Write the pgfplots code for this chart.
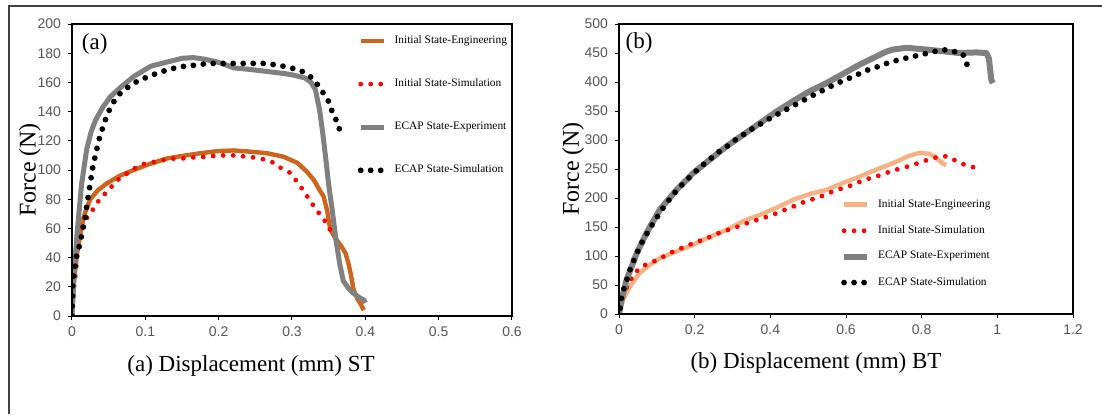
\documentclass[border=0pt]{standalone}
\usepackage{fontspec}
\setmainfont{Liberation Serif}
\setsansfont{Liberation Sans}
\usepackage{pgfplots}
\pgfplotsset{compat=1.18}

\definecolor{engorange}{RGB}{204,102,30}
\definecolor{peach}{RGB}{246,178,132}
\definecolor{expgray}{RGB}{128,128,128}
\definecolor{ticktext}{RGB}{85,85,85}

\tikzset{
  dotline/.style={line width=#1, dash pattern=on 0pt off 5pt, line cap=round},
}

\pgfplotsset{
  panel/.style={
    scale only axis,
    anchor=south west,
    axis line style={line width=0.6pt},
    tick pos=left, tick align=outside,
    major tick length=2pt,
    tick style={black, line width=0.5pt},
    tick label style={font=\sffamily\fontsize{7}{8}\selectfont, text=ticktext},
    /pgf/number format/assume math mode=true,
    /pgf/number format/fixed,
    label style={font=\fontsize{11.5}{13}\selectfont},
    ylabel style={font=\fontsize{12}{14}\selectfont},
    legend cell align=left,
    legend image code/.code={\draw[#1] (0pt,0pt) -- (11.5pt,0pt);},
  },
}

\pgfplotstableread{
x F
0 0
0.003 25
0.007 43
0.012 58
0.016 68
0.021 75
0.025 80
0.035 86
0.048 91
0.065 96
0.084 100
0.105 104
0.13 108
0.155 110
0.175 111.5
0.2 113
0.22 113.4
0.245 112.5
0.266 111.5
0.28 110
0.289 109
0.3 106.5
0.307 105
0.32 99
0.33 93
0.338 86
0.343 82
0.348 72
0.352 60
0.357 55
0.361 52
0.367 48
0.373 43
0.377 36
0.38 29
0.384 18
0.389 12
0.393 8.7
0.398 4
}\engA

\pgfplotstableread{
x F
0 0
0.001 6
0.002 15.5
0.003 21
0.005 29
0.007 41
0.011 52
0.015 62
0.020 67
0.025 70
0.032 76
0.041 82
0.05 86
0.059 92
0.07 96
0.082 100
0.093 103.5
0.105 105
0.118 106
0.13 107.4
0.143 108
0.157 108
0.17 109
0.184 109
0.198 110
0.211 110
0.225 110
0.239 109
0.25 108.5
0.264 107
0.275 105
0.286 101
0.298 98
0.314 87
0.33 75
0.345 65
0.352 59
}\simInitA

\pgfplotstableread{
x F
0 0
0.003 30
0.007 57
0.013 90
0.02 114
0.026 126
0.032 134
0.042 143
0.052 150
0.065 156
0.084 164
0.107 171
0.13 174
0.15 176.5
0.165 177
0.18 176
0.198 174
0.21 172
0.22 170
0.24 169
0.266 167.5
0.29 166
0.302 165
0.318 163
0.326 160
0.332 155
0.338 140
0.342 125
0.346 108
0.350 90
0.355 72
0.360 52
0.365 36
0.370 24
0.377 19
0.384 15.5
0.392 12.5
0.398 11
0.400 9
}\expA

\pgfplotstableread{
x F
0 0
0.0009 20
0.0023 27
0.0045 35
0.0068 43
0.0114 50
0.0136 57
0.018 67
0.0205 77
0.0227 84
0.025 91
0.027 98
0.0295 105
0.0327 111.5
0.036 119.5
0.04 126
0.0445 133
0.049 139
0.0545 145
0.0636 151.5
0.0727 155.4
0.084 159.5
0.097 162.5
0.109 165
0.123 167.5
0.134 169
0.145 170.5
0.159 171.4
0.173 172
0.184 173
0.198 173
0.225 173
0.252 173
0.266 173
0.277 172
0.289 171
0.301 169.6
0.314 167.5
0.325 164
0.334 159
0.341 154
0.349 148
0.354 141
0.359 135.5
0.364 130
0.366 123
}\simEcapA

\pgfplotstableread{
x F
0 0
0.011 25
0.029 48
0.055 71
0.082 85
0.108 96.5
0.152 108
0.196 119.5
0.24 133
0.284 145
0.328 160
0.372 171
0.416 183
0.46 197
0.504 207
0.548 214
0.592 226
0.636 237
0.68 249
0.724 260
0.768 273
0.795 278
0.821 276
0.839 269
0.856 259
0.865 257
}\engB

\pgfplotstableread{
x F
0.003 13
0.011 30
0.02 45
0.031 59
0.042 71
0.06 82
0.082 88
0.104 94
0.126 102
0.15 110
0.173 115.5
0.196 122
0.221 128
0.245 134
0.269 141
0.295 146.5
0.32 152
0.344 158
0.369 163
0.393 168
0.418 174
0.443 181
0.467 187
0.492 194
0.517 199
0.541 204.6
0.566 211.5
0.591 217
0.615 222
0.64 229
0.665 234.5
0.689 239
0.714 245
0.739 250
0.765 254.6
0.79 260
0.817 266
0.843 271
0.868 272
0.894 263
0.918 256
0.943 252
}\simInitB

\pgfplotstableread{
x F
0 0
0.007 25
0.02 59
0.047 105
0.073 140
0.108 180
0.152 214
0.196 243
0.24 266
0.284 289
0.328 309
0.372 329
0.416 349
0.46 367
0.504 384
0.548 398
0.592 414
0.636 430
0.68 444
0.705 452
0.724 456
0.76 459
0.812 456
0.856 453
0.9 450
0.944 451
0.971 450
0.978 440
0.98 427
0.984 404
0.988 398
}\expB

\pgfplotstableread{
x F
0.003 10
0.005 16
0.007 33
0.016 49
0.025 68
0.033 84
0.045 100.5
0.055 117
0.069 133
0.082 148
0.097 163
0.11 177
0.126 191
0.143 206
0.161 219
0.179 231
0.198 243
0.218 255
0.239 266
0.26 278
0.282 287
0.302 298
0.324 307
0.346 317
0.37 326
0.393 335
0.415 343
0.438 351
0.46 359
0.484 367
0.506 375
0.531 383
0.555 391
0.577 398
0.603 405
0.628 412
0.654 420
0.678 425
0.702 431
0.727 436
0.751 440
0.777 444
0.804 448
0.83 452
0.856 456
0.881 453
0.907 450
0.918 436
0.923 418
}\simEcapB

\begin{document}
\begin{tikzpicture}
\useasboundingbox (0,0) rectangle (551pt,207pt);
% outer frame (only top and left edges are visible in the reference)
\draw[line width=0.6pt, black!75] (4.5pt,0) -- (4.5pt,204pt) -- (551pt,204pt);

% ---------------- (a) ST ----------------
\begin{axis}[
  panel,
  at={(36pt,49pt)},
  width=220pt, height=146pt,
  xmin=0, xmax=0.6, ymin=0, ymax=200,
  xtick={0,0.1,0.2,0.3,0.4,0.5,0.6},
  ytick={0,20,40,60,80,100,120,140,160,180,200},
  xlabel={(a) Displacement (mm) ST},
  ylabel={Force (N)},
  xlabel style={at={(axis description cs:0.5,0)}, anchor=center, yshift=-25pt, xshift=-20.5pt},
  ylabel style={at={(axis description cs:-0.0955,0.5)}, anchor=center},
  legend style={draw=none, fill=none, font=\fontsize{5.7}{6.5}\selectfont,
    at={(0.635,0.99)}, anchor=north west, row sep=12.2pt,
    /tikz/every odd column/.append style={column sep=2pt}},
  after end axis/.code={
    \draw[line width=1.2pt] (rel axis cs:0,1) -- (rel axis cs:0,0) -- (rel axis cs:1,0);
    \draw[line width=1.2pt] (rel axis cs:1,0) -- (rel axis cs:1,0.585);
    \node[font=\fontsize{11.5}{13}\selectfont, anchor=center] at (axis cs:0.031,186) {(a)};
  },
]
\addplot[engorange, line width=2.2pt, line join=round] table {\engA};
\addlegendentry{Initial State-Engineering}
\addplot[red, dotline=2.4pt] table {\simInitA};
\addlegendentry{Initial State-Simulation}
\addplot[expgray, line width=2.5pt, line join=round] table {\expA};
\addlegendentry{ECAP State-Experiment}
\addplot[black, dotline=2.9pt] table {\simEcapA};
\addlegendentry{ECAP State-Simulation}
\end{axis}

% ---------------- (b) BT ----------------
\begin{axis}[
  panel,
  at={(309.5pt,50pt)},
  width=227pt, height=145pt,
  xmin=0, xmax=1.2, ymin=0, ymax=500,
  xtick={0,0.2,0.4,0.6,0.8,1,1.2},
  ytick={0,50,100,150,200,250,300,350,400,450,500},
  xlabel={(b) Displacement (mm) BT},
  ylabel={Force (N)},
  xlabel style={at={(axis description cs:0.5,0)}, anchor=center, yshift=-24.5pt, xshift=-15pt},
  ylabel style={at={(axis description cs:-0.101,0.5)}, anchor=center},
  legend style={draw=none, fill=none, font=\fontsize{5.7}{6.5}\selectfont,
    at={(0.475,0.425)}, anchor=north west, row sep=3.6pt,
    /tikz/every odd column/.append style={column sep=2pt}},
  after end axis/.code={
    \draw[line width=1.2pt] (rel axis cs:0,1) -- (rel axis cs:0,0) -- (rel axis cs:1,0);
    \draw[line width=1.2pt] (rel axis cs:1,0) -- (rel axis cs:1,0.34);
    \node[font=\fontsize{11.5}{13}\selectfont, anchor=center] at (axis cs:0.053,467) {(b)};
  },
]
\addplot[peach, line width=2.2pt, line join=round] table {\engB};
\addlegendentry{Initial State-Engineering}
\addplot[red, dotline=2.4pt] table {\simInitB};
\addlegendentry{Initial State-Simulation}
\addplot[expgray, line width=3pt, line join=round] table {\expB};
\addlegendentry{ECAP State-Experiment}
\addplot[black, dotline=2.9pt] table {\simEcapB};
\addlegendentry{ECAP State-Simulation}
\end{axis}
\end{tikzpicture}
\end{document}
